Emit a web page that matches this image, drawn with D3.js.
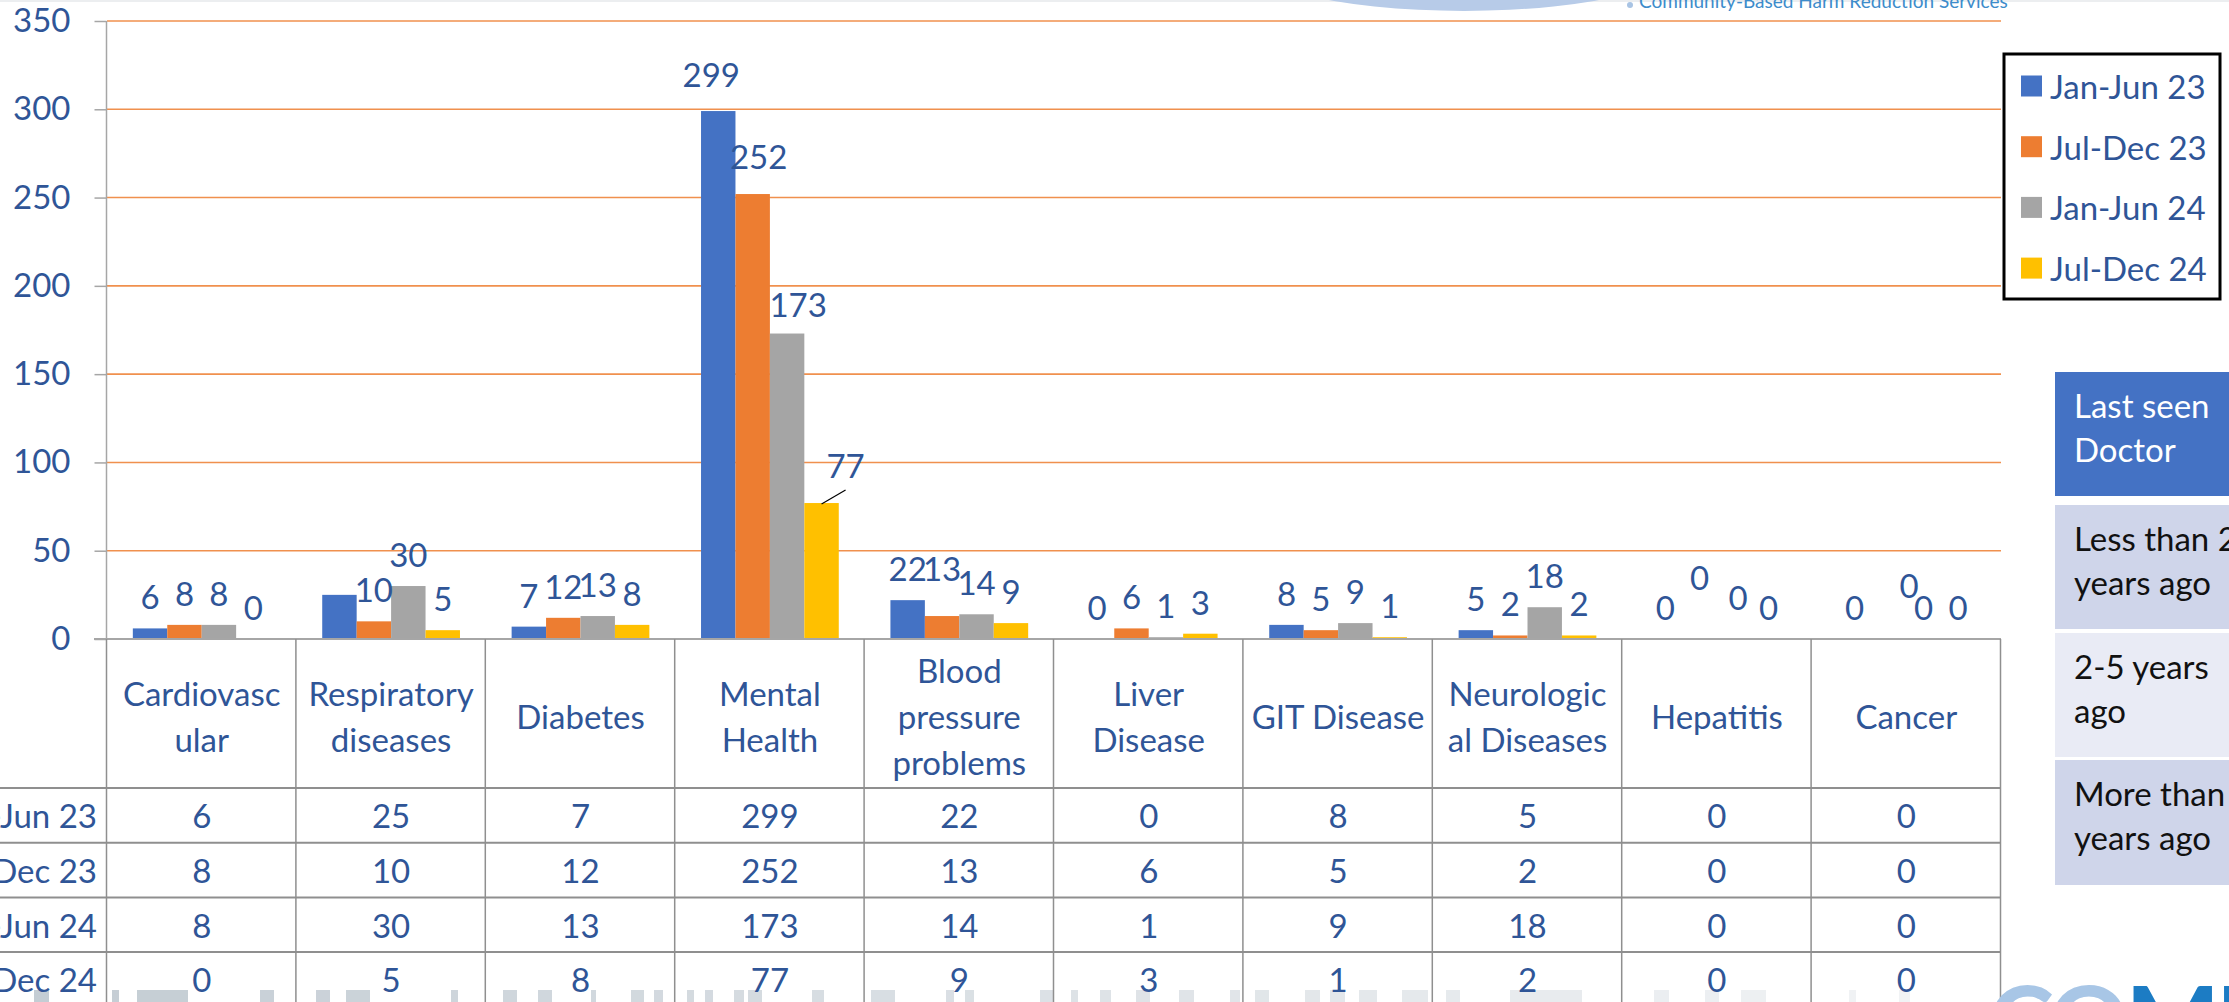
<!DOCTYPE html>
<html>
<head>
<meta charset="utf-8">
<script src="https://cdn.jsdelivr.net/npm/d3@7/dist/d3.min.js"></script>
<style>
  html, body { margin: 0; padding: 0; background: #fff; overflow: hidden; }
  svg { display: block; }
  text { font-family: Lato, "Open Sans", sans-serif; }
</style>
</head>
<body>
<div id="chart"></div>
<script>
// chart data
const categories = ["Cardiovascular", "Respiratory diseases", "Diabetes", "Mental Health",
  "Blood pressure problems", "Liver Disease", "GIT Disease", "Neurological Diseases", "Hepatitis", "Cancer"];
// how the category names wrap in the table header
const categoryLines = [["Cardiovasc", "ular"], ["Respiratory", "diseases"], ["Diabetes"], ["Mental", "Health"],
  ["Blood", "pressure", "problems"], ["Liver", "Disease"], ["GIT Disease"], ["Neurologic", "al Diseases"],
  ["Hepatitis"], ["Cancer"]];
const seriesNames = ["Jan-Jun 23", "Jul-Dec 23", "Jan-Jun 24", "Jul-Dec 24"];
const janJun23 = [6, 25, 7, 299, 22, 0, 8, 5, 0, 0];
const julDec23 = [8, 10, 12, 252, 13, 6, 5, 2, 0, 0];
const janJun24 = [8, 30, 13, 173, 14, 1, 9, 18, 0, 0];
const julDec24 = [0, 5, 8, 77, 9, 3, 1, 2, 0, 0];
const yTicks = [0, 50, 100, 150, 200, 250, 300, 350];

// side table
const sideHeader = ["Last seen", "Doctor"];
const sideRows = [["Less than 2", "years ago"], ["2-5 years", "ago"], ["More than 5", "years ago"]];

const seriesValues = [janJun23, julDec23, janJun24, julDec24];
const colors = ["#4472C4", "#ED7D31", "#A5A5A5", "#FFC000"];
const textBlue = "#2F5597";

// hand-moved data labels in the original (series index - category index) -> offset
const labelNudge = {
  "0-3": [-7, -5], "1-3": [6, -6], "2-3": [11, 2], "3-3": [24, -6],
  "1-4": [0, -16], "1-8": [0, -30], "2-8": [4, -10], "1-9": [20, -22]
};
// label deleted in the original
const labelHidden = new Set(["0-1"]);

const W = 2229, H = 1002;
const fs = 33;

const svg = d3.select("#chart").append("svg")
  .attr("width", W).attr("height", H);

const x = d3.scaleBand().domain(categories).range([107, 2001]);
const x1 = d3.scaleBand().domain(seriesNames).range([0, x.bandwidth()]).paddingOuter(0.75);
const y = d3.scaleLinear().domain([0, 350]).range([639, 21]);

// header decoration (logo fragment)
svg.append("rect").attr("x", 0).attr("y", 0).attr("width", W).attr("height", 2).attr("fill", "#eceef0");
svg.append("ellipse").attr("cx", 1464).attr("cy", -49).attr("rx", 234).attr("ry", 60).attr("fill", "#b7cbe8");
svg.append("circle").attr("cx", 1630).attr("cy", 5).attr("r", 3).attr("fill", "#a9c4e4");
svg.append("text").attr("x", 1639).attr("y", 8).attr("font-size", 19).attr("fill", "#3d8ccb")
  .text("Community-Based Harm Reduction Services");

// gridlines
const grid = svg.append("g");
grid.selectAll("line").data(yTicks.filter(d => d > 0)).join("line")
  .attr("x1", 107).attr("x2", 2001)
  .attr("y1", d => y(d)).attr("y2", d => y(d))
  .attr("stroke", "#F0904E").attr("stroke-width", 1.6);

// y axis
const yAxis = svg.append("g").attr("transform", "translate(106.5,0)")
  .call(d3.axisLeft(y).tickValues(yTicks).tickSize(12).tickPadding(24));
yAxis.select(".domain").attr("stroke", "#a6a6a6").attr("stroke-width", 1.5)
  .attr("d", `M0,${y(350)}V${y(0)}`);
yAxis.selectAll(".tick line").attr("stroke", "#a6a6a6").attr("stroke-width", 1.5);
yAxis.selectAll(".tick text").attr("font-size", fs).attr("fill", textBlue)
  .attr("font-family", "Lato, sans-serif");

// bars
const barData = [];
seriesNames.forEach((s, si) => {
  categories.forEach((c, ci) => {
    barData.push({ s, si, c, ci, v: seriesValues[si][ci] });
  });
});

svg.append("g").selectAll("rect").data(barData).join("rect")
  .attr("x", d => x(d.c) + x1(d.s))
  .attr("y", d => y(d.v))
  .attr("width", x1.bandwidth())
  .attr("height", d => y(0) - y(d.v))
  .attr("fill", d => colors[d.si]);

// data labels
const labelPos = d => {
  const n = labelNudge[d.si + "-" + d.ci] || [0, 0];
  return [x(d.c) + x1(d.s) + x1.bandwidth() / 2 + n[0], y(d.v) - 32 + n[1]];
};
svg.append("g").selectAll("text")
  .data(barData.filter(d => !labelHidden.has(d.si + "-" + d.ci))).join("text")
  .attr("x", d => labelPos(d)[0])
  .attr("y", d => labelPos(d)[1])
  .attr("text-anchor", "middle").attr("dominant-baseline", "central")
  .attr("font-size", fs).attr("fill", textBlue)
  .text(d => d.v);

// leader line for the moved 77 label
const lead = barData.find(d => d.si === 3 && d.ci === 3);
svg.append("line")
  .attr("x1", x(lead.c) + x1(lead.s) + x1.bandwidth() / 2).attr("y1", y(lead.v) + 1)
  .attr("x2", labelPos(lead)[0]).attr("y2", labelPos(lead)[1] + 25)
  .attr("stroke", "#000").attr("stroke-width", 1.2);

// data table under the chart
const rowTop = 788, rowH = 54.7;
const table = svg.append("g");
table.append("line").attr("x1", 94).attr("x2", 2001).attr("y1", y(0)).attr("y2", y(0))
  .attr("stroke", "#a6a6a6").attr("stroke-width", 2);
table.selectAll(".hline").data(seriesNames).join("line").attr("class", "hline")
  .attr("x1", 0).attr("x2", 2001)
  .attr("y1", (d, i) => rowTop + i * rowH).attr("y2", (d, i) => rowTop + i * rowH)
  .attr("stroke", "#8f8f8f").attr("stroke-width", 2);
const colEdges = categories.map(c => x(c)).concat([x.range()[1]]);
table.selectAll(".vline").data(colEdges).join("line").attr("class", "vline")
  .attr("x1", d => d - 0.5).attr("x2", d => d - 0.5)
  .attr("y1", y(0)).attr("y2", H)
  .attr("stroke", "#8f8f8f").attr("stroke-width", 1.5);

// header row
const headMid = (y(0) + rowTop) / 2 + 2, lineH = 46;
table.selectAll(".cat").data(categories).join("text").attr("class", "cat")
  .attr("text-anchor", "middle").attr("font-size", fs).attr("fill", textBlue)
  .each(function (c, i) {
    const lines = categoryLines[i];
    const t = d3.select(this);
    lines.forEach((ln, k) => {
      t.append("tspan")
        .attr("x", x(c) + x.bandwidth() / 2)
        .attr("y", headMid + (k - (lines.length - 1) / 2) * lineH)
        .attr("dominant-baseline", "central")
        .text(ln);
    });
  });

// series rows
seriesNames.forEach((s, si) => {
  const cy = rowTop + si * rowH + rowH / 2;
  table.append("text").attr("x", 97).attr("y", cy)
    .attr("text-anchor", "end").attr("dominant-baseline", "central")
    .attr("font-size", fs).attr("fill", textBlue).text(s);
  table.append("g").selectAll("text").data(categories).join("text")
    .attr("x", c => x(c) + x.bandwidth() / 2).attr("y", cy)
    .attr("text-anchor", "middle").attr("dominant-baseline", "central")
    .attr("font-size", fs).attr("fill", textBlue)
    .text((c, ci) => seriesValues[si][ci]);
});

// legend
const legend = svg.append("g");
legend.append("rect").attr("x", 2004).attr("y", 54).attr("width", 216).attr("height", 245)
  .attr("fill", "#fff").attr("stroke", "#000").attr("stroke-width", 3);
const li = legend.selectAll("g").data(seriesNames).join("g")
  .attr("transform", (d, i) => `translate(2021,${86 + i * 60.7})`);
li.append("rect").attr("x", 0).attr("y", -10.5).attr("width", 21).attr("height", 21)
  .attr("fill", (d, i) => colors[i]);
li.append("text").attr("x", 29).attr("y", 0).attr("dominant-baseline", "central")
  .attr("font-size", fs).attr("fill", textBlue).text(d => d);

// side table "Last seen Doctor"
const side = svg.append("g");
const sideBoxes = [
  { top: 372, h: 124, fill: "#4472C4", color: "#fff", lines: sideHeader },
  { top: 505, h: 124, fill: "#CFD5EA", color: "#111", lines: sideRows[0] },
  { top: 633, h: 124, fill: "#E9EBF5", color: "#111", lines: sideRows[1] },
  { top: 760, h: 125, fill: "#CFD5EA", color: "#111", lines: sideRows[2] }
];
sideBoxes.forEach(b => {
  side.append("rect").attr("x", 2055).attr("y", b.top).attr("width", W - 2055).attr("height", b.h)
    .attr("fill", b.fill);
  b.lines.forEach((ln, k) => {
    side.append("text").attr("x", 2074).attr("y", b.top + 33 + k * 44)
      .attr("dominant-baseline", "central").attr("font-size", fs).attr("fill", b.color).text(ln);
  });
});

// footer decoration (skyline strip and logo fragment)
const skyline = [[34, 49], [112, 119], [137, 188], [260, 274], [316, 330], [346, 370], [451, 458],
  [503, 517], [538, 552], [591, 596], [631, 644], [654, 663], [687, 694], [705, 713], [734, 744],
  [748, 762], [812, 824], [871, 895], [946, 954], [965, 974], [1040, 1054], [1071, 1078],
  [1100, 1111], [1136, 1150], [1179, 1194], [1230, 1240], [1255, 1269], [1305, 1320], [1330, 1345],
  [1359, 1377], [1402, 1428], [1446, 1460], [1510, 1582], [1654, 1669], [1705, 1719], [1741, 1766],
  [1849, 1856], [1899, 1910]];
const fade = d3.scaleLinear().domain([0, 1900]).range(["#c3ccd3", "#f1f3f5"]);
svg.append("g").lower().selectAll("rect").data(skyline).join("rect")
  .attr("x", d => d[0]).attr("y", 990).attr("width", d => d[1] - d[0]).attr("height", 12)
  .attr("fill", d => fade(d[0]));
const comb = svg.append("text").attr("x", 1988).attr("y", 1058)
  .attr("font-size", 100).attr("font-weight", 700).attr("letter-spacing", -4);
comb.append("tspan").attr("fill", "#a8c6e6").text("CO");
comb.append("tspan").attr("fill", "#1c7cc4").text("MB");
</script>
</body>
</html>
